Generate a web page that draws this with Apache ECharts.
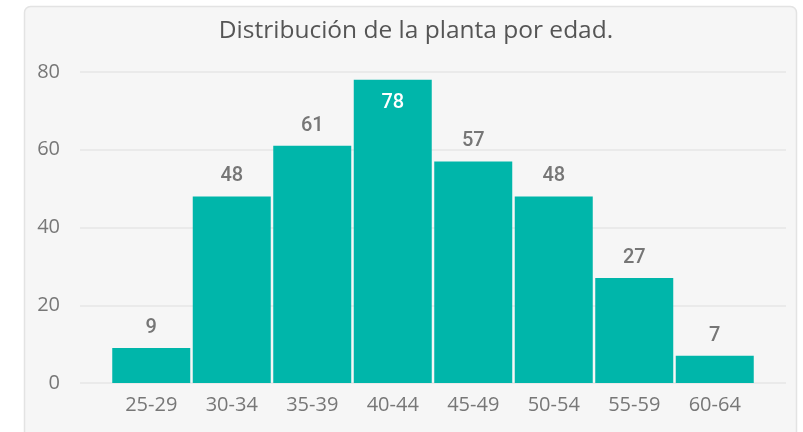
<!DOCTYPE html>
<html>
<head>
<meta charset="utf-8">
<script src="https://cdn.jsdelivr.net/npm/echarts@6/dist/echarts.min.js"></script>
<style>html,body{margin:0;padding:0;background:#fff}#c{width:803px;height:432px}</style>
</head>
<body>
<div id="c"></div>
<script>
const titleText = 'Distribución de la planta por edad.';
const categories = ['25-29','30-34','35-39','40-44','45-49','50-54','55-59','60-64'];
const values = [9, 48, 61, 78, 57, 48, 27, 7];
const yTicks = [0, 20, 40, 60, 80];

const chart = echarts.init(document.getElementById('c'), null, {renderer: 'canvas'});
const gridTop = 72, gridBottom = 432 - 383;
const font = '"Open Sans", "Noto Sans", sans-serif';
chart.setOption({
  backgroundColor: '#ffffff',
  animation: false,
  graphic: [{
    type: 'rect', z: -10, silent: true,
    shape: {x: 24.5, y: 6.5, width: 772, height: 450, r: 6},
    style: {fill: '#f6f6f6', stroke: '#e3e3e3', lineWidth: 1.5}
  }],
  title: {
    text: titleText, left: 411, textAlign: 'center', top: 14,
    textStyle: {fontFamily: font, fontSize: 24.5, fontWeight: 'normal', color: '#555555'}
  },
  grid: [
    {left: 111, width: 644, top: gridTop, bottom: gridBottom},
    {left: 80, right: 17, top: gridTop, bottom: gridBottom}
  ],
  xAxis: [
    {type: 'category', gridIndex: 0, data: categories,
     axisLine: {show: false}, axisTick: {show: false},
     axisLabel: {fontFamily: font, fontSize: 20, color: '#777777', margin: 12}},
    {type: 'category', gridIndex: 1, data: categories, show: false}
  ],
  yAxis: [
    {type: 'value', gridIndex: 0, min: 0, max: 80, interval: 20, show: false},
    {type: 'value', gridIndex: 1, min: 0, max: 80, interval: 20,
     axisLine: {show: false}, axisTick: {show: false},
     splitLine: {lineStyle: {color: '#eaeaea', width: 2}},
     axisLabel: {fontFamily: font, fontSize: 20, color: '#777777', margin: 20,
       formatter: v => yTicks.includes(v) ? String(v) : ''}}
  ],
  series: [{
    type: 'bar', xAxisIndex: 0, yAxisIndex: 0, barWidth: 78,
    itemStyle: {color: '#00b6aa'},
    data: values.map((v, i) => {
      const inside = v === Math.max(...values);
      return {
        value: v,
        label: inside ? {position: 'insideTop', distance: 13, color: '#ffffff'} : {}
      };
    }),
    label: {show: true, position: 'top', distance: 10,
      fontFamily: 'Roboto, sans-serif', fontSize: 20, fontWeight: 500, color: '#767676'}
  }]
});
</script>
</body>
</html>
